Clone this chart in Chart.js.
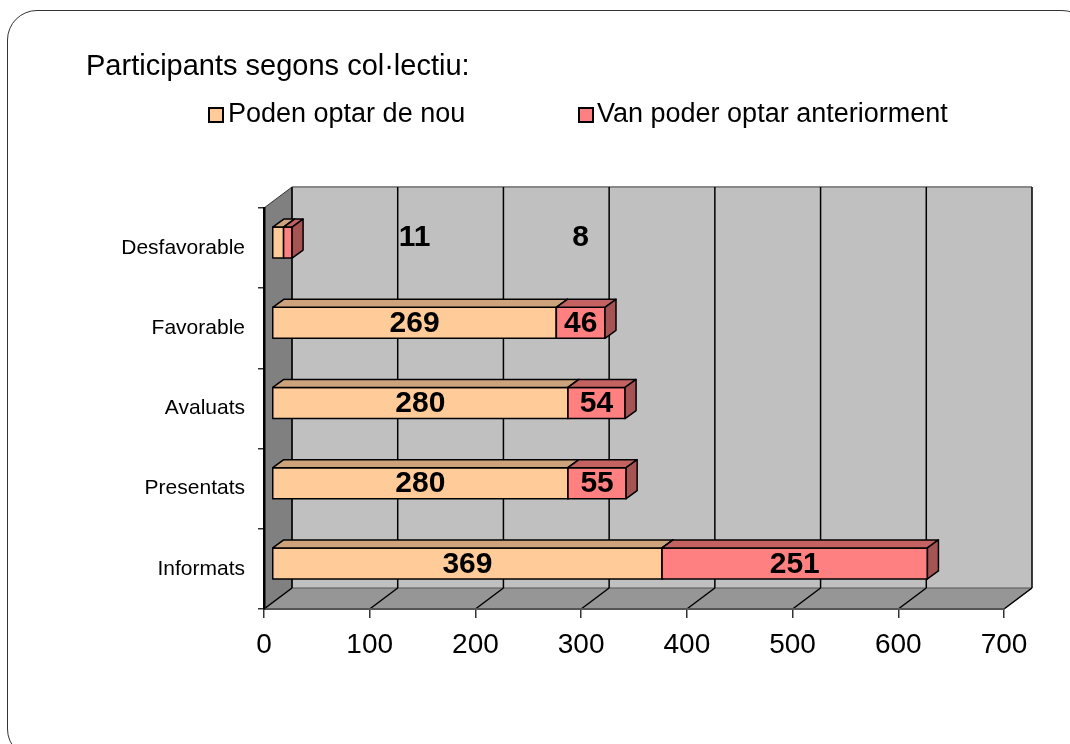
<!DOCTYPE html>
<html>
<head>
<meta charset="utf-8">
<script src="https://cdn.jsdelivr.net/npm/chart.js@4"></script>
<style>
  html, body { margin: 0; padding: 0; background: #fff; }
  body { width: 1070px; height: 744px; position: relative; overflow: hidden; font-family: "Liberation Sans", Arial, sans-serif; }
  #frame { position: absolute; left: 7px; top: 10px; width: 1083px; height: 747px; border: 1.5px solid #333; border-radius: 30px; }
  #chart { position: absolute; left: 0; top: 0; }
  #title { position: absolute; left: 86px; top: 51px; font-size: 29px; line-height: 29px; white-space: nowrap; }
  .lg-box { position: absolute; top: 107px; width: 12px; height: 12px; border: 2px solid #000; }
  .lg-text { position: absolute; top: 100px; font-size: 27px; line-height: 27px; white-space: nowrap; }
</style>
</head>
<body>
<div id="frame"></div>
<canvas id="chart" width="1070" height="744"></canvas>
<div id="title">Participants segons col·lectiu:</div>
<div id="legend"></div>

<script>
// Data (bottom row first, as in the source chart)
const categories = ['Informats', 'Presentats', 'Avaluats', 'Favorable', 'Desfavorable'];
const podenOptarDeNou = [369, 280, 280, 269, 11];
const vanPoderOptarAnteriorment = [251, 55, 54, 46, 8];
const seriesNames = ['Poden optar de nou', 'Van poder optar anteriorment'];
const xMin = 0, xMax = 700, xStep = 100;

// Colours: front face, top face, side face
const frontColors = ['#FFCC99', '#FF8080'];
const topColors = ['#CCA37A', '#C46262'];
const sideColors = ['#B8926D', '#A65353'];

// 3D look
const WALL_DX = 28, WALL_DY = -21;
const FRONT_DX = 8, FRONT_DY = -5.5;
const BAR_DX = 11, BAR_DY = -8;

/**
 * Builds the HTML legend next to the title.
 */
function buildLegend() {
    const legend = document.getElementById('legend');
    const boxLeft = [208, 578];
    const textLeft = [228, 597];
    seriesNames.forEach((name, i) => {
        const box = document.createElement('div');
        box.className = 'lg-box';
        box.style.left = boxLeft[i] + 'px';
        box.style.background = frontColors[i];
        legend.appendChild(box);
        const txt = document.createElement('div');
        txt.className = 'lg-text';
        txt.style.left = textLeft[i] + 'px';
        txt.textContent = name;
        legend.appendChild(txt);
    });
}

function poly(ctx, pts, fill, stroke, lw) {
    ctx.beginPath();
    ctx.moveTo(pts[0][0], pts[0][1]);
    for (let i = 1; i < pts.length; i++) ctx.lineTo(pts[i][0], pts[i][1]);
    ctx.closePath();
    if (fill) { ctx.fillStyle = fill; ctx.fill(); }
    if (stroke) { ctx.strokeStyle = stroke; ctx.lineWidth = lw || 1; ctx.stroke(); }
}

// Walls, floor and back gridlines
const wallsPlugin = {
    id: 'walls',
    beforeDraw(chart) {
        const { ctx, chartArea: a, scales: { x } } = chart;
        ctx.save();
        // back wall
        poly(ctx, [[a.left + WALL_DX, a.top + WALL_DY], [a.right + WALL_DX, a.top + WALL_DY],
                   [a.right + WALL_DX, a.bottom + WALL_DY], [a.left + WALL_DX, a.bottom + WALL_DY]], '#C0C0C0');
        // left wall
        poly(ctx, [[a.left, a.bottom], [a.left, a.top], [a.left + WALL_DX, a.top + WALL_DY],
                   [a.left + WALL_DX, a.bottom + WALL_DY]], '#808080', '#333', 1);
        // floor
        poly(ctx, [[a.left, a.bottom], [a.right, a.bottom], [a.right + WALL_DX, a.bottom + WALL_DY],
                   [a.left + WALL_DX, a.bottom + WALL_DY]], '#969696', '#555', 1);
        // top edge of back wall
        ctx.strokeStyle = '#888';
        ctx.lineWidth = 2;
        ctx.beginPath();
        ctx.moveTo(a.left + WALL_DX, a.top + WALL_DY);
        ctx.lineTo(a.right + WALL_DX, a.top + WALL_DY);
        ctx.stroke();
        // gridlines on back wall + floor
        x.ticks.forEach(t => {
            const px = x.getPixelForValue(t.value);
            ctx.strokeStyle = '#000';
            ctx.lineWidth = 1.5;
            ctx.beginPath();
            ctx.moveTo(px + WALL_DX, a.bottom + WALL_DY);
            ctx.lineTo(px + WALL_DX, a.top + WALL_DY);
            ctx.moveTo(px, a.bottom);
            ctx.lineTo(px + WALL_DX, a.bottom + WALL_DY);
            ctx.stroke();
        });
        ctx.restore();
    }
};

// 3D bar segments and value labels
const bars3dPlugin = {
    id: 'bars3d',
    afterDatasetsDraw(chart) {
        const ctx = chart.ctx;
        const segs = [];
        chart.data.datasets.forEach((ds, d) => {
            const meta = chart.getDatasetMeta(d);
            segs[d] = meta.data.map((el, i) => {
                const p = el.getProps(['x', 'base', 'y', 'height'], true);
                return {
                    x0: Math.min(p.base, p.x) + FRONT_DX,
                    x1: Math.max(p.base, p.x) + FRONT_DX,
                    y0: p.y - p.height / 2 + FRONT_DY,
                    y1: p.y + p.height / 2 + FRONT_DY,
                    value: ds.data[i]
                };
            });
        });

        ctx.save();
        ctx.lineJoin = 'round';
        for (let i = 0; i < categories.length; i++) {
            segs.forEach((row, d) => {
                const s = row[i];
                poly(ctx, [[s.x0, s.y0], [s.x1, s.y0], [s.x1, s.y1], [s.x0, s.y1]], frontColors[d], '#000', 1.5);
                poly(ctx, [[s.x0, s.y0], [s.x1, s.y0], [s.x1 + BAR_DX, s.y0 + BAR_DY], [s.x0 + BAR_DX, s.y0 + BAR_DY]], topColors[d], '#000', 1.5);
                poly(ctx, [[s.x1, s.y0], [s.x1 + BAR_DX, s.y0 + BAR_DY], [s.x1 + BAR_DX, s.y1 + BAR_DY], [s.x1, s.y1]], sideColors[d], '#000', 1.5);
            });
        }

        // value labels
        ctx.font = 'bold 30px "Liberation Sans", Arial, sans-serif';
        ctx.fillStyle = '#000';
        ctx.textAlign = 'center';
        ctx.textBaseline = 'middle';
        segs.forEach(row => {
            row.forEach((s, i) => {
                const text = String(s.value);
                let cx = (s.x0 + s.x1) / 2;
                let cy = (s.y0 + s.y1) / 2 + 1;
                // segment too narrow: put the label over the free row space, aligned with the neighbour row
                if (ctx.measureText(text).width > s.x1 - s.x0) {
                    const n = row[i - 1] || row[i + 1];
                    cx = (n.x0 + n.x1) / 2;
                    cy -= 6;
                }
                ctx.fillText(text, cx, cy);
            });
        });
        ctx.restore();
    }
};

document.addEventListener('DOMContentLoaded', () => {
    buildLegend();

    const ctx = document.getElementById('chart').getContext('2d');
    new Chart(ctx, {
        type: 'bar',
        data: {
            labels: categories,
            datasets: [
                { label: seriesNames[0], data: podenOptarDeNou, backgroundColor: 'rgba(0,0,0,0)', borderWidth: 0 },
                { label: seriesNames[1], data: vanPoderOptarAnteriorment, backgroundColor: 'rgba(0,0,0,0)', borderWidth: 0 }
            ]
        },
        options: {
            indexAxis: 'y',
            responsive: false,
            animation: false,
            devicePixelRatio: 1,
            datasets: { bar: { barPercentage: 0.387, categoryPercentage: 1 } },
            layout: { padding: { top: 208, right: 66, bottom: 0, left: 0 } },
            plugins: { legend: { display: false }, tooltip: { enabled: false }, title: { display: false } },
            scales: {
                x: {
                    stacked: true, min: xMin, max: xMax,
                    ticks: { stepSize: xStep, color: '#000', padding: 10, font: { size: 28, family: '"Liberation Sans", Arial, sans-serif' } },
                    grid: { drawOnChartArea: false, drawTicks: true, tickLength: 9, color: '#333', lineWidth: 1.5 },
                    border: { display: true, color: '#555', width: 2 },
                    afterFit: s => { s.height = 135; }
                },
                y: {
                    stacked: true, reverse: true,
                    ticks: { color: '#000', padding: 13, font: { size: 21, family: '"Liberation Sans", Arial, sans-serif' } },
                    grid: { offset: true, drawOnChartArea: false, drawTicks: true, tickLength: 6, color: '#333', lineWidth: 1.5 },
                    border: { display: true, color: '#000', width: 2.5 },
                    afterFit: s => { s.width = 264; }
                }
            }
        },
        plugins: [wallsPlugin, bars3dPlugin]
    });
});
</script>
</body>
</html>
